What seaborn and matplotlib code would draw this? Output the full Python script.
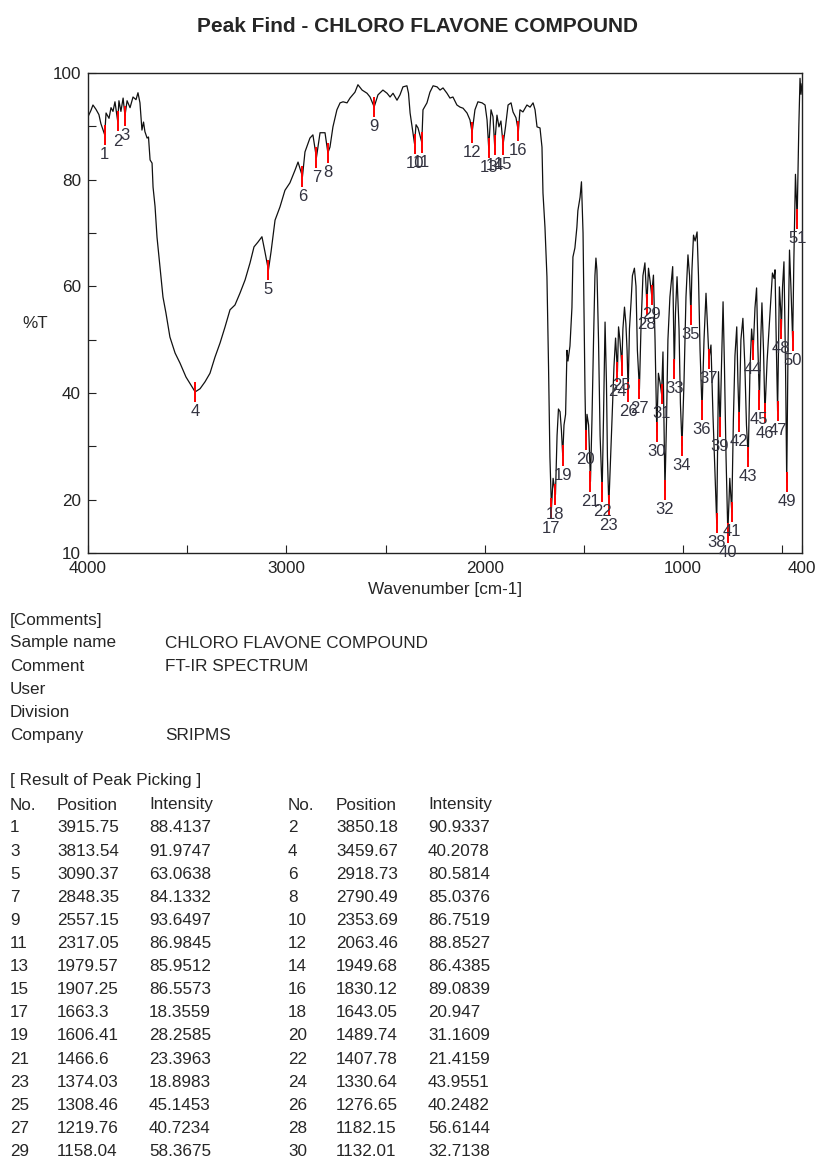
import numpy as np
import pandas as pd
import matplotlib
matplotlib.use("Agg")
import matplotlib.pyplot as plt
import seaborn as sns

# peak table (1-30 from the printed table, 31-51)
peak_no = list(range(1, 52))
peak_pos = [3915.75, 3850.18, 3813.54, 3459.67, 3090.37, 2918.73, 2848.35, 2790.49,
            2557.15, 2353.69, 2317.05, 2063.46, 1979.57, 1949.68, 1907.25, 1830.12,
            1663.3, 1643.05, 1606.41, 1489.74, 1466.6, 1407.78, 1374.03, 1330.64,
            1308.46, 1276.65, 1219.76, 1182.15, 1158.04, 1132.01,
            1108, 1091, 1044, 1005, 960, 904, 869, 830, 813, 774, 754, 717, 671,
            646, 615, 587, 523, 504, 477, 447, 424.5]
peak_int = [88.4137, 90.9337, 91.9747, 40.2078, 63.0638, 80.5814, 84.1332, 85.0376,
            93.6497, 86.7519, 86.9845, 88.8527, 85.9512, 86.4385, 86.5573, 89.0839,
            18.3559, 20.947, 28.2585, 31.1609, 23.3963, 21.4159, 18.8983, 43.9551,
            45.1453, 40.2482, 40.7234, 56.6144, 58.3675, 32.7138,
            39.8, 21.8, 44.5, 30.1, 54.6, 36.8, 46.4, 15.6, 33.6, 13.75, 17.7, 34.6,
            28.0, 48.1, 38.7, 36.2, 36.6, 52.0, 23.3, 49.8, 72.6]

# spectrum shape between the picked peaks (wavenumber, %T)
shape_wn = [4000, 3985, 3975, 3960, 3945, 3935, 3909, 3894, 3884, 3874, 3864, 3844, 3834,
            3823, 3803, 3788, 3773, 3758, 3748, 3738, 3728, 3720, 3713, 3702, 3695, 3687,
            3677, 3672, 3662, 3652, 3637, 3622, 3607, 3587, 3561, 3536, 3506, 3486, 3435,
            3410, 3385, 3360, 3334, 3309, 3284, 3259, 3234, 3208, 3183, 3163, 3143, 3123,
            3108, 3077, 3057, 3032, 3007, 2982, 2956, 2941, 2906, 2881, 2866, 2830, 2805,
            2780, 2765, 2745, 2729, 2714, 2694, 2679, 2654, 2639, 2618, 2593, 2578, 2538,
            2513, 2492, 2477, 2462, 2442, 2427, 2412, 2392, 2384, 2376, 2366, 2346, 2336,
            2311, 2291, 2276, 2260, 2240, 2225, 2210, 2190, 2175, 2160, 2140, 2124, 2109,
            2089, 2074, 2049, 2034, 2013, 1998, 1988, 1968, 1958, 1938, 1928, 1918, 1895,
            1882, 1867, 1857, 1842, 1822, 1807, 1787, 1771, 1756, 1746, 1736, 1721, 1711,
            1706, 1696, 1686, 1678, 1671, 1655, 1635, 1628, 1620, 1613, 1600, 1592, 1585,
            1580, 1570, 1560, 1555, 1545, 1535, 1530, 1519, 1512, 1504, 1499, 1494, 1484,
            1476, 1459, 1451, 1444, 1439, 1434, 1426, 1418, 1401, 1393, 1386, 1381, 1368,
            1358, 1348, 1340, 1335, 1325, 1318, 1303, 1295, 1288, 1282, 1270, 1262, 1255,
            1245, 1237, 1230, 1212, 1202, 1192, 1174, 1166, 1149, 1141, 1124, 1116, 1101,
            1096, 1083, 1076, 1066, 1052, 1038, 1030, 1020, 1013, 995, 985, 975, 967, 955,
            947, 939, 929, 922, 914, 894, 884, 877, 859, 849, 839, 821, 806, 798, 791, 783,
            764, 746, 738, 729, 723, 708, 698, 688, 680, 662, 654, 637, 629, 622, 608, 602,
            594, 576, 566, 556, 549, 541, 536, 530, 514, 508, 498, 491, 483, 470, 463, 456,
            441, 433, 416, 410, 405, 400]
shape_t = [91.8, 93.0, 94.0, 93.2, 92.2, 90.5, 92.5, 91.5, 93.5, 92.8, 94.6, 94.8, 92.8,
           95.3, 94.8, 93.5, 95.5, 95.0, 96.3, 94.4, 89.3, 90.8, 89.0, 87.8, 88.0, 83.7,
           83.1, 78.6, 75.0, 69.2, 63.6, 58.0, 55.0, 50.5, 47.5, 45.6, 43.0, 41.8, 40.8,
           42.1, 43.7, 46.7, 49.4, 52.4, 55.6, 56.5, 58.7, 61.2, 64.4, 67.4, 68.3, 69.3,
           66.5, 66.5, 72.4, 74.9, 78.0, 79.4, 81.8, 83.3, 85.2, 87.8, 88.4, 88.8, 88.8,
           86.1, 89.9, 93.1, 94.4, 94.6, 94.4, 95.3, 96.4, 97.8, 96.8, 96.2, 95.5, 95.9,
           96.8, 96.2, 95.5, 96.2, 94.9, 95.9, 97.4, 97.6, 96.2, 92.5, 89.9, 90.3, 89.7,
           93.1, 94.4, 96.4, 97.6, 97.4, 96.8, 97.2, 96.2, 95.3, 95.5, 94.0, 93.6, 93.4,
           92.5, 91.2, 93.1, 94.6, 94.4, 94.0, 91.2, 93.1, 91.8, 92.1, 89.9, 91.0, 89.9,
           94.0, 94.4, 92.7, 91.6, 93.1, 92.7, 94.0, 93.6, 94.4, 93.1, 89.9, 89.7, 86.1,
           77.5, 71.1, 61.8, 45.0, 28.0, 24.0, 32.0, 37.0, 36.5, 33.0, 34.0, 36.0, 48.0,
           46.0, 48.8, 56.0, 65.5, 67.2, 71.1, 74.2, 76.7, 79.6, 70.0, 55.0, 40.0, 36.0,
           34.0, 35.0, 50.0, 62.0, 65.3, 63.0, 50.0, 32.0, 35.0, 53.3, 42.0, 28.0, 25.0,
           35.0, 45.0, 50.3, 47.0, 52.4, 50.0, 52.0, 56.1, 53.0, 48.0, 52.0, 57.0, 62.0,
           63.4, 60.0, 48.0, 52.0, 62.0, 64.4, 63.4, 61.0, 62.1, 50.0, 43.7, 42.0, 47.7,
           35.0, 35.0, 50.0, 58.0, 63.7, 55.0, 61.8, 52.0, 38.0, 42.0, 58.0, 65.9, 62.0, 63.0,
           69.6, 68.5, 70.2, 62.0, 48.0, 50.0, 58.7, 53.0, 49.0, 36.0, 25.0, 44.0, 45.0, 57.1, 45.0, 28.0,
           24.0, 35.0, 47.0, 52.4, 42.0, 50.0, 54.0, 45.0, 34.0, 45.0, 52.0, 56.0, 59.7, 48.0, 50.0, 56.9,
           48.0, 46.0, 52.0, 58.0, 62.5, 61.5, 63.1, 50.0, 59.9, 56.0, 60.0, 64.6, 45.0, 50.0, 66.8, 60.0,
           65.0, 81.0, 90.0, 99.0, 96.0, 98.0]

x_ticks = [4000, 3500, 3000, 2500, 2000, 1500, 1000, 500, 400]
x_ticklabels = ["4000", "", "3000", "", "2000", "", "1000", "", "400"]
y_ticks = [10, 20, 30, 40, 50, 60, 70, 80, 90, 100]
y_ticklabels = ["10", "20", "", "40", "", "60", "", "80", "", "100"]

comment_keys = ["Sample name", "Comment", "User", "Division", "Company"]
comment_vals = ["CHLORO FLAVONE COMPOUND", "FT-IR SPECTRUM", "", "", "SRIPMS"]

# merge shape points and peak points into one trace
df = pd.DataFrame({"wn": shape_wn + peak_pos, "T": shape_t + peak_int})
df = df.sort_values("wn", ascending=False).reset_index(drop=True)

sns.set_style("ticks")
plt.rcParams["font.family"] = ["Liberation Sans", "DejaVu Sans"]

W, H = 817, 1160
fig = plt.figure(figsize=(W / 100, H / 100), dpi=100)
ax = fig.add_axes([88 / W, 1 - 553 / H, (802 - 88) / W, (553 - 73) / H])

sns.lineplot(data=df, x="wn", y="T", ax=ax, sort=False, estimator=None,
             color="#111111", linewidth=0.9)

pk_pos = np.array(peak_pos)
pk_int = np.array(peak_int)
ax.vlines(pk_pos, pk_int - 1.9, pk_int + 1.9, color="red", linewidth=1.4, zorder=3)
for n, p, v in zip(peak_no, peak_pos, peak_int):
    ax.text(p, v - 3.7, str(n), ha="center", va="center", fontsize=12, color="#333340")

ax.set_xlim(4000, 400)
ax.set_ylim(10, 100)
ax.set_xticks(x_ticks)
ax.set_xticklabels(x_ticklabels)
ax.set_yticks(y_ticks)
ax.set_yticklabels(y_ticklabels)
ax.tick_params(direction="in", length=6, width=0.8, labelsize=12.3, colors="#222222")
ax.tick_params(axis="x", pad=6)
ax.tick_params(axis="y", pad=5)
for s in ax.spines.values():
    s.set_linewidth(1.0)
    s.set_color("#222222")
ax.set_xlabel("Wavenumber [cm-1]", fontsize=12.3, labelpad=4)
ax.set_ylabel("")

fig.text(0.511, 1 - 26 / H, "Peak Find - CHLORO FLAVONE COMPOUND", ha="center", va="center",
         fontsize=15, fontweight="bold")
fig.text(35 / W, 1 - 323 / H, "%T", ha="center", va="center", fontsize=12.3)

# comments block
fs = 12.3
fig.text(10 / W, 1 - 620 / H, "[Comments]", va="center", fontsize=fs)
for i, (k, v) in enumerate(zip(comment_keys, comment_vals)):
    y = 1 - (643 + i * 23.2) / H
    fig.text(10 / W, y, k, va="center", fontsize=fs)
    fig.text(165 / W, y, v, va="center", fontsize=fs)

# peak table
fig.text(10 / W, 1 - 781 / H, "[ Result of Peak Picking ]", va="center", fontsize=fs)
cols = [10, 57, 149, 288, 336, 428]
for c, h in zip(cols, ["No.", "Position", "Intensity"] * 2):
    fig.text(c / W, 1 - 805 / H, h, va="center", fontsize=fs)
for i in range(30):
    row = i // 2
    base = 0 if i % 2 == 0 else 3
    y = 1 - (828 + row * 23.1) / H
    fig.text(cols[base] / W, y, str(peak_no[i]), va="center", fontsize=fs)
    fig.text(cols[base + 1] / W, y, str(peak_pos[i]), va="center", fontsize=fs)
    fig.text(cols[base + 2] / W, y, str(peak_int[i]), va="center", fontsize=fs)

fig.savefig("out.png", dpi=100, facecolor="white")
